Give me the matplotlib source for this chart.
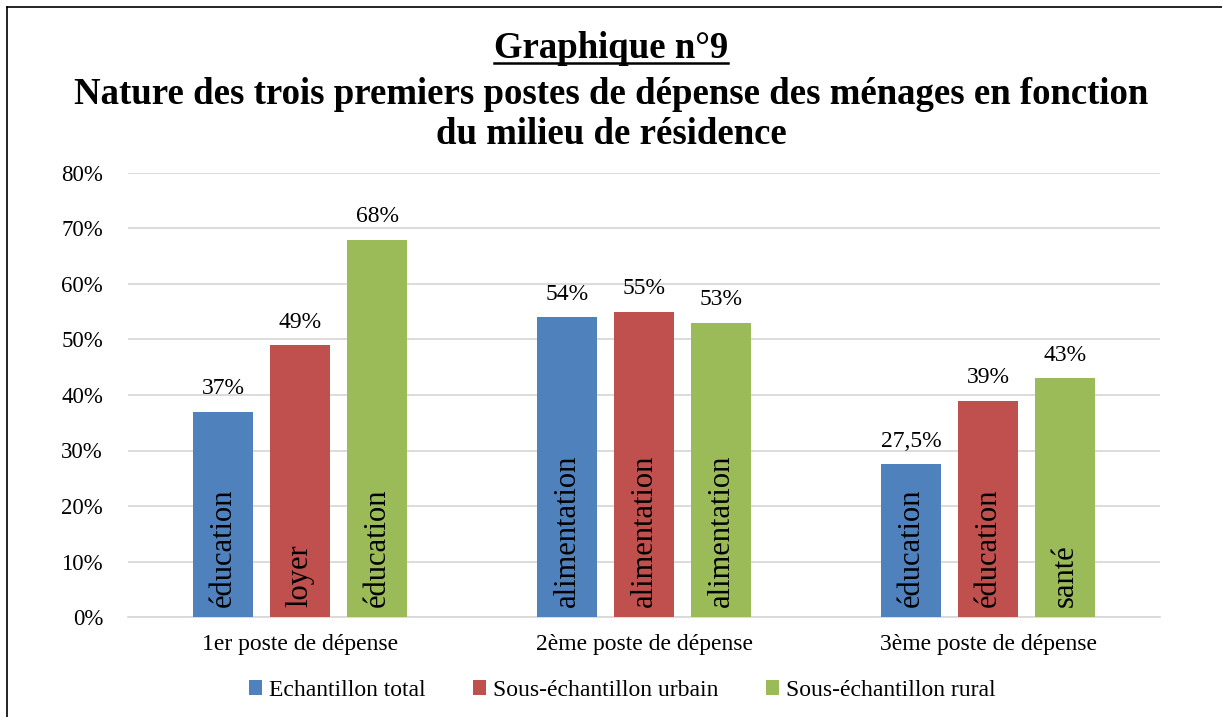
import numpy as np
import matplotlib.pyplot as plt
from matplotlib.lines import Line2D

plt.rcParams['font.family'] = ['Liberation Serif', 'DejaVu Serif']

categories = ['1er poste de dépense', '2ème poste de dépense', '3ème poste de dépense']
series = ['Echantillon total', 'Sous-échantillon urbain', 'Sous-échantillon rural']
values = [
    [37, 54, 27.5],
    [49, 55, 39],
    [68, 53, 43],
]
value_labels = [
    ['37%', '54%', '27,5%'],
    ['49%', '55%', '39%'],
    ['68%', '53%', '43%'],
]
inner_labels = [
    ['éducation', 'alimentation', 'éducation'],
    ['loyer', 'alimentation', 'éducation'],
    ['éducation', 'alimentation', 'santé'],
]
colors = ['#4F81BD', '#C0504D', '#9BBB59']

fig = plt.figure(figsize=(12.22, 7.17), dpi=100)
ax = fig.add_axes([128 / 1222, 1 - 617 / 717, 1032 / 1222, 444 / 717])

x = np.arange(len(categories))
width = 0.175
step = 0.224

for i, s in enumerate(series):
    pos = x + (i - 1) * step
    bars = ax.bar(pos, values[i], width, color=colors[i], label=s, zorder=3)
    for b, vl, il in zip(bars, value_labels[i], inner_labels[i]):
        ax.annotate(vl, (b.get_x() + b.get_width() / 2, b.get_height()),
                    xytext=(0, 9), textcoords='offset points',
                    ha='center', va='bottom', fontsize=17)
        ax.annotate(il, (b.get_x() + b.get_width() / 2, 0),
                    xytext=(0, 7), textcoords='offset points',
                    ha='center', va='bottom', rotation=90, fontsize=22)

ax.set_xlim(-0.5, 2.5)
ax.set_ylim(0, 80)
ax.set_yticks(np.arange(0, 81, 10))
ax.set_yticklabels([f'{v}%' for v in range(0, 81, 10)], fontsize=16.5)
ax.set_xticks(x)
ax.set_xticklabels(categories, fontsize=17)
ax.tick_params(axis='x', length=0, pad=12)
ax.tick_params(axis='y', length=0, pad=18)
ax.grid(True, axis='y', color='#d9d9d9', linewidth=1.3, zorder=0)
for sp in ['top', 'right', 'left']:
    ax.spines[sp].set_visible(False)
ax.spines['bottom'].set_color('#d9d9d9')
ax.spines['bottom'].set_linewidth(1.3)

ax.legend(loc='center', bbox_to_anchor=(0.479, -0.165), ncol=3, frameon=False,
          fontsize=17, handlelength=0.55, handleheight=0.55, handletextpad=0.3,
          columnspacing=2.0)

t1 = fig.text(0.5, 1 - 48 / 717, 'Graphique n°9', ha='center', va='center',
              fontsize=26.5, fontweight='bold')
fig.text(0.5, 1 - 94 / 717, 'Nature des trois premiers postes de dépense des ménages en fonction',
         ha='center', va='center', fontsize=26.5, fontweight='bold')
fig.text(0.5, 1 - 135 / 717, 'du milieu de résidence', ha='center', va='center',
         fontsize=26.5, fontweight='bold')

# underline the first title line
fig.canvas.draw()
bb = t1.get_window_extent().transformed(fig.transFigure.inverted())
fig.add_artist(Line2D([bb.x0, bb.x1], [bb.y0 + 0.004, bb.y0 + 0.004],
                      transform=fig.transFigure, color='black', linewidth=1.8))

# outer frame (left and top)
fig.add_artist(Line2D([7 / 1222, 7 / 1222], [0, 1 - 7 / 717], transform=fig.transFigure,
                      color='black', linewidth=1.2))
fig.add_artist(Line2D([7 / 1222, 1], [1 - 7 / 717, 1 - 7 / 717], transform=fig.transFigure,
                      color='black', linewidth=1.2))

fig.savefig('out.png', dpi=100)
